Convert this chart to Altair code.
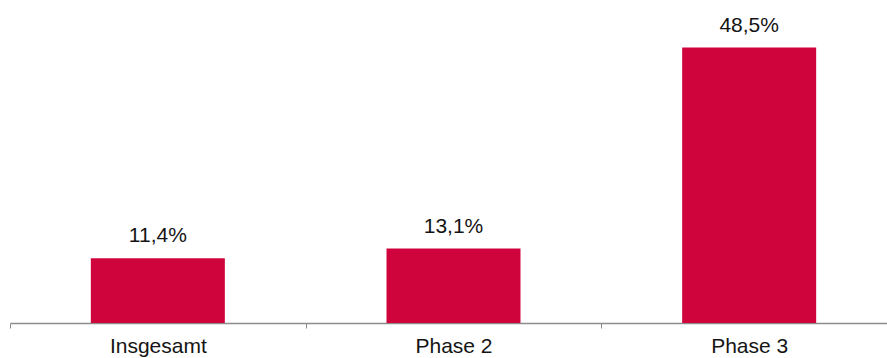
import altair as alt
import pandas as pd

# Share of each group, in percent
categories = ["Insgesamt", "Phase 2", "Phase 3"]
values = [11.4, 13.1, 48.5]
labels = ["11,4%", "13,1%", "48,5%"]

df = pd.DataFrame({"kategorie": categories, "wert": values, "label": labels})

bar_color = "#D0043C"
text_color = "#141414"
axis_gray = "#8c8c8c"
font = "Liberation Sans"

# Bands fill the full width; bars get a fixed width inside each band
x = alt.X(
    "kategorie:N",
    sort=categories,
    title=None,
    scale=alt.Scale(range=[0, 887], paddingInner=0, paddingOuter=0),
    axis=alt.Axis(
        labelAngle=0,
        labelFont=font,
        labelFontSize=21,
        labelColor=text_color,
        labelPadding=7,
        tickBand="extent",
        tickSize=5,
        tickColor=axis_gray,
        domainColor=axis_gray,
        domainWidth=1.5,
        grid=False,
    ),
)
y = alt.Y("wert:Q", scale=alt.Scale(domain=[0, 56], nice=False), axis=None)

bars = alt.Chart(df).mark_bar(color=bar_color, width=134).encode(x=x, y=y)

texts = alt.Chart(df).mark_text(
    font=font, fontSize=21, color=text_color, baseline="alphabetic", dy=-16
).encode(x=x, y=y, text="label:N")

chart = (
    (bars + texts)
    .properties(
        width=877,
        height=318,
        autosize=alt.AutoSizeParams(type="none"),
        padding={"left": 10, "top": 5, "right": 0, "bottom": 35},
        view=alt.ViewBackground(stroke="transparent", strokeWidth=0),
    )
    .configure_view(strokeWidth=0, stroke="transparent")
    .configure(background="white")
)

chart.save("out.html", embed_options={"renderer": "svg", "actions": False})
